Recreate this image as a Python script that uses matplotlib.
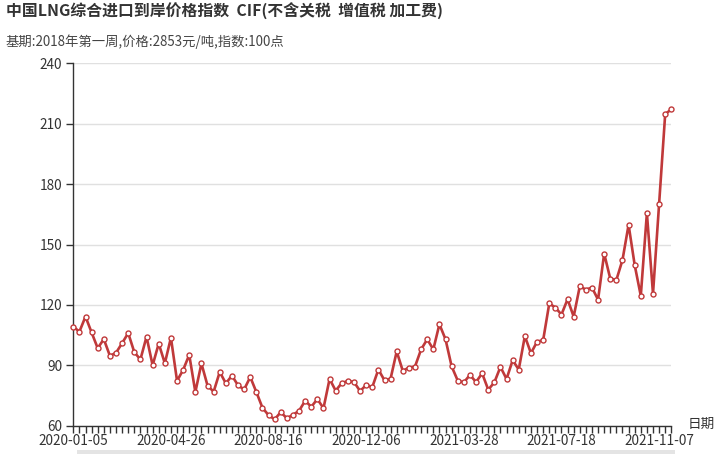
import numpy as np
import pandas as pd
import matplotlib
matplotlib.use("Agg")
import matplotlib.pyplot as plt
from matplotlib.patches import Rectangle

plt.rcParams['font.family'] = ['Noto Sans CJK SC', 'DejaVu Sans']

# weekly index values
dates = pd.date_range("2020-01-05", periods=99, freq="7D").strftime("%Y-%m-%d").tolist()
index_values = [
    109.2, 106.7, 114.2, 106.3, 98.5, 103.0, 94.7, 96.2, 101.0, 106.0,
    96.5, 92.9, 104.2, 90.0, 100.8, 91.0, 103.7, 82.3, 87.7, 95.2,
    76.7, 90.9, 79.9, 76.9, 86.7, 81.0, 84.9, 80.0, 78.0, 84.2,
    76.7, 68.9, 65.2, 63.2, 66.7, 63.7, 65.4, 67.4, 72.4, 69.4,
    73.2, 68.7, 83.2, 77.4, 81.2, 82.2, 81.7, 77.2, 80.2, 79.2,
    87.9, 82.5, 83.4, 96.9, 87.2, 88.9, 89.4, 97.9, 102.9, 97.9,
    110.4, 102.9, 89.5, 82.4, 81.5, 85.2, 81.7, 86.0, 77.9, 81.5,
    89.2, 83.2, 92.5, 87.9, 104.5, 96.0, 101.7, 102.5, 120.7, 118.7,
    115.2, 122.8, 114.2, 129.2, 127.6, 128.6, 122.6, 145.5, 133.0, 132.4,
    142.3, 159.8, 139.8, 124.5, 165.6, 125.5, 170.1, 214.8, 217.1,
]
y_ticks = [60, 90, 120, 150, 180, 210, 240]

title = "中国LNG综合进口到岸价格指数  CIF(不含关税  增值税 加工费)"
subtitle = "基期:2018年第一周,价格:2853元/吨,指数:100点"

fig = plt.figure(figsize=(7.2, 4.54), dpi=100)
ax = fig.add_axes([73.3 / 720, 28.3 / 454, 598 / 720, 362.4 / 454])

x = np.arange(len(dates))
ax.plot(x, index_values, color="#c0393a", lw=1.9, marker="o", ms=3.6,
        mfc="white", mec="#c0393a", mew=1, zorder=3, clip_on=False)

ax.set_xlim(0, len(dates) - 1)
ax.set_ylim(60, 240)
ax.set_yticks(y_ticks)
ax.set_yticklabels([str(v) for v in y_ticks])
ax.set_xticks(x, minor=True)
major = x[::16]
ax.set_xticks(major)
ax.set_xticklabels([dates[i] for i in major])

ax.grid(axis="y", color="#e0e0e0", lw=1)
ax.set_axisbelow(True)
for s in ["top", "right"]:
    ax.spines[s].set_visible(False)
for s in ["left", "bottom"]:
    ax.spines[s].set_color("#333333")
    ax.spines[s].set_linewidth(1)

ax.tick_params(axis="both", which="both", colors="#333333", labelsize=9.8,
               length=5, width=1, labelcolor="#333333")
ax.tick_params(axis="x", which="minor", length=5)
ax.tick_params(axis="y", pad=3)
ax.tick_params(axis="x", pad=1)

fig.text(6 / 720, 1 - 11 / 454, title, fontsize=11.4, fontweight="bold",
         color="#333333", va="center", ha="left")
fig.text(5 / 720, 1 - 42 / 454, subtitle, fontsize=9.6, color="#444444",
         va="center", ha="left")
fig.text(688 / 720, 1 - 424 / 454, "日期", fontsize=9.8, color="#333333",
         va="center", ha="left")

# scroll bar strip at the bottom
fig.patches.append(Rectangle((77 / 720, 0), 598 / 720, 4 / 454,
                             transform=fig.transFigure, color="#e4e4e4", lw=0))

fig.savefig("out.png", dpi=100)
